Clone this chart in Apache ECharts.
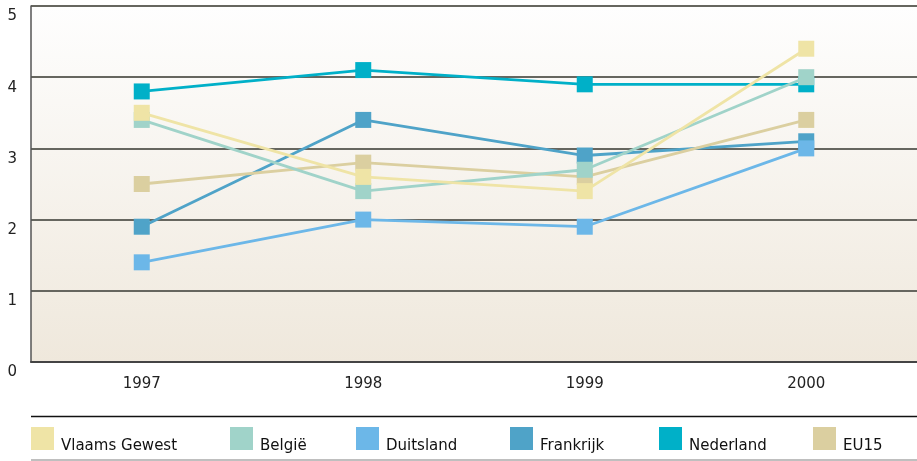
<!DOCTYPE html>
<html>
<head>
<meta charset="utf-8">
<script src="https://cdn.jsdelivr.net/npm/echarts@6/dist/echarts.min.js"></script>
<style>
  html, body { margin: 0; padding: 0; background: #fff; }
  #chart { width: 917px; height: 461px; }
</style>
</head>
<body>
<div id="chart"></div>
<script>
// jaren
const years = ["1997", "1998", "1999", "2000"];
const yTicks = [0, 1, 2, 3, 4, 5];

// waarden per regio
const vlaamsGewest = [3.5, 2.6, 2.4, 4.4];
const belgie = [3.4, 2.4, 2.7, 4.0];
const duitsland = [1.4, 2.0, 1.9, 3.0];
const frankrijk = [1.9, 3.4, 2.9, 3.1];
const nederland = [3.8, 4.1, 3.9, 3.9];
const eu15 = [2.5, 2.8, 2.6, 3.4];

const font = "DejaVu Sans";

function lijn(name, data, color, z) {
  return {
    name: name,
    type: "line",
    data: data,
    z: z,
    symbol: "rect",
    symbolSize: 16,
    showSymbol: true,
    lineStyle: { color: color, width: 2.8 },
    itemStyle: { color: color },
    emphasis: { disabled: true }
  };
}

// legenda: elk item een eigen positie
function legenda(name, left) {
  return {
    data: [name],
    left: left,
    top: 427,
    padding: 0,
    icon: "rect",
    itemWidth: 23,
    itemHeight: 23,
    selectedMode: false,
    formatter: n => "{t|" + n + "}",
    textStyle: {
      fontFamily: font,
      fontSize: 15,
      color: "#111",
      rich: {
        t: { fontFamily: font, fontSize: 15, color: "#111", padding: [15, 0, 0, 2] }
      }
    }
  };
}

let myChart = echarts.init(document.getElementById("chart"));
myChart.setOption({
  animation: false,
  backgroundColor: "#fff",
  grid: {
    left: 31,
    top: 6,
    width: 888,
    height: 356,
    show: true,
    borderWidth: 0,
    backgroundColor: {
      type: "linear", x: 0, y: 0, x2: 0, y2: 1,
      colorStops: [
        { offset: 0, color: "#fefefe" },
        { offset: 1, color: "#efe8dc" }
      ]
    }
  },
  legend: [
    legenda("Vlaams Gewest", 31),
    legenda("België", 230),
    legenda("Duitsland", 356),
    legenda("Frankrijk", 510),
    legenda("Nederland", 659),
    legenda("EU15", 813)
  ],
  xAxis: {
    type: "category",
    data: years,
    boundaryGap: true,
    axisLine: { lineStyle: { color: "#444", width: 2 } },
    axisTick: { alignWithLabel: true, inside: true, length: 9, lineStyle: { color: "#555", width: 1.5 } },
    axisLabel: { fontFamily: font, fontSize: 15, color: "#222", margin: 15 }
  },
  yAxis: {
    type: "value",
    min: 0,
    max: 5,
    interval: 1,
    axisLine: { show: true, lineStyle: { color: "#555", width: 1.5 } },
    axisTick: { show: false },
    splitLine: { lineStyle: { color: "#66665f", width: 1.8 } },
    axisLabel: {
      fontFamily: font,
      fontSize: 15,
      color: "#222",
      margin: 14,
      verticalAlign: "top",
      padding: [3, 0, 0, 0],
      formatter: v => (yTicks.includes(v) ? String(v) : "")
    }
  },
  graphic: [
    { type: "line", shape: { x1: 31, y1: 416.5, x2: 917, y2: 416.5 }, style: { stroke: "#111", lineWidth: 1.5 } },
    { type: "line", shape: { x1: 31, y1: 460, x2: 917, y2: 460 }, style: { stroke: "#aaa", lineWidth: 1.5 } }
  ],
  series: [
    lijn("Vlaams Gewest", vlaamsGewest, "#efe4a6", 8),
    lijn("België", belgie, "#a0d3c9", 7),
    lijn("Duitsland", duitsland, "#6cb7e8", 6),
    lijn("Frankrijk", frankrijk, "#4fa3c8", 4),
    lijn("Nederland", nederland, "#00b0c8", 3),
    lijn("EU15", eu15, "#dbcfa0", 5)
  ]
});
</script>
</body>
</html>
